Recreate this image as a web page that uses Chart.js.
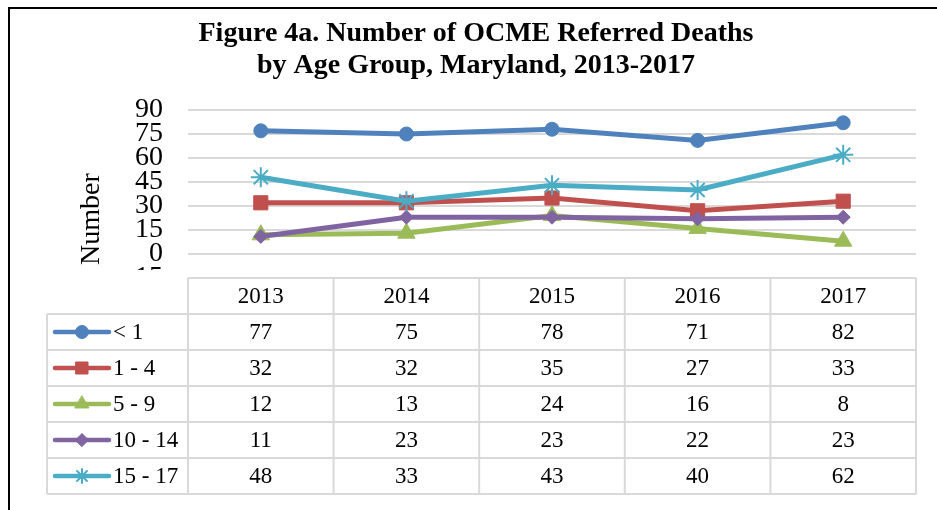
<!DOCTYPE html>
<html>
<head>
<meta charset="utf-8">
<script src="https://cdn.jsdelivr.net/npm/chart.js@4.4.1/dist/chart.umd.min.js"></script>
<style>
html,body{margin:0;padding:0;background:#fff;}
#wrap{width:937px;height:510px;}
</style>
</head>
<body>
<div id="wrap"><canvas id="c" width="937" height="510"></canvas></div>
<script>
// ---- data ----
const years = ['2013', '2014', '2015', '2016', '2017'];
const seriesNames = ['< 1', '1 - 4', '5 - 9', '10 - 14', '15 - 17'];
const under1 = [77, 75, 78, 71, 82];
const age1to4 = [32, 32, 35, 27, 33];
const age5to9 = [12, 13, 24, 16, 8];
const age10to14 = [11, 23, 23, 22, 23];
const age15to17 = [48, 33, 43, 40, 62];
const yMin = -15, yMax = 90, yStep = 15;
const titleLines = ['Figure 4a. Number of OCME Referred Deaths', 'by Age Group, Maryland, 2013-2017'];
const yAxisTitle = 'Number';

const seriesValues = [under1, age1to4, age5to9, age10to14, age15to17];
const colors = ['#4F81BD', '#C0504D', '#9BBB59', '#8064A2', '#4BACC6'];
const styles = ['circle', 'rect', 'triangle', 'rectRot', 'star'];
const radii = [7, 10, 10, 7, 10];
const keyRadii = [6.5, 8.5, 8, 6.5, 7];
const SERIF = '"Liberation Serif", "Times New Roman", serif';

const datasets = seriesNames.map((name, i) => ({
  label: name,
  data: seriesValues[i],
  order: seriesNames.length - 1 - i,
  borderColor: colors[i],
  backgroundColor: colors[i],
  borderWidth: 5,
  pointStyle: styles[i],
  pointRadius: radii[i],
  pointHoverRadius: radii[i],
  pointBackgroundColor: colors[i],
  pointBorderColor: colors[i],
  pointBorderWidth: styles[i] === 'star' ? 2 : 1,
  tension: 0,
  fill: false
}));

const framePlugin = {
  id: 'frame',
  beforeDraw(chart) {
    const ctx = chart.ctx;
    ctx.save();
    ctx.fillStyle = '#fff';
    ctx.fillRect(0, 0, chart.width, chart.height);
    ctx.restore();
  },
  afterDraw(chart) {
    const ctx = chart.ctx;
    const ca = chart.chartArea;
    const xs = chart.scales.x;
    const n = years.length;
    const colW = (ca.right - ca.left) / n;
    const rowH = 36;
    const top = ca.bottom;
    const tableLeft = 47;
    ctx.save();
    // hide the clipped part of the lowest tick label
    ctx.fillStyle = '#fff';
    ctx.fillRect(11, top - 8, ca.left - 12, rowH + 7);

    // y axis title
    ctx.save();
    ctx.translate(92, 219);
    ctx.rotate(-Math.PI / 2);
    ctx.fillStyle = '#000';
    ctx.font = '28px ' + SERIF;
    ctx.textAlign = 'center';
    ctx.textBaseline = 'middle';
    ctx.fillText(yAxisTitle, 0, 0);
    ctx.restore();

    // table grid
    ctx.strokeStyle = '#d9d9d9';
    ctx.lineWidth = 2;
    const nRows = seriesNames.length;
    const bottom = top + rowH * (nRows + 1);
    ctx.beginPath();
    ctx.moveTo(ca.left, top); ctx.lineTo(ca.right, top);
    for (let r = 1; r <= nRows + 1; r++) {
      const y = top + r * rowH;
      ctx.moveTo(tableLeft, y); ctx.lineTo(ca.right, y);
    }
    ctx.moveTo(tableLeft, top + rowH); ctx.lineTo(tableLeft, bottom);
    for (let c = 0; c <= n; c++) {
      const x = ca.left + c * colW;
      ctx.moveTo(x, top); ctx.lineTo(x, bottom);
    }
    ctx.stroke();

    // header text
    ctx.fillStyle = '#000';
    ctx.font = '23px ' + SERIF;
    ctx.textAlign = 'center';
    ctx.textBaseline = 'middle';
    years.forEach((yr, i) => {
      ctx.fillText(yr, xs.getPixelForValue(i), top + rowH / 2 + 1);
    });
    // rows
    seriesNames.forEach((name, r) => {
      const yc = top + rowH * (r + 1) + rowH / 2 + 1;
      ctx.save();
      ctx.strokeStyle = colors[r];
      ctx.lineWidth = 4.5;
      ctx.lineCap = 'round';
      ctx.beginPath();
      ctx.moveTo(55, yc - 1); ctx.lineTo(109, yc - 1);
      ctx.stroke();
      ctx.fillStyle = colors[r];
      ctx.strokeStyle = colors[r];
      ctx.lineWidth = styles[r] === 'star' ? 2 : 1;
      Chart.helpers.drawPoint(ctx, {pointStyle: styles[r], radius: keyRadii[r], rotation: 0, borderWidth: ctx.lineWidth}, 82, yc - 1);
      ctx.restore();
      ctx.fillStyle = '#000';
      ctx.textAlign = 'left';
      ctx.fillText(name, 113, yc);
      ctx.textAlign = 'center';
      seriesValues[r].forEach((v, i) => {
        ctx.fillText(String(v), xs.getPixelForValue(i), yc);
      });
    });

    // outer frame
    ctx.strokeStyle = '#000';
    ctx.lineWidth = 2;
    ctx.strokeRect(9, 8, 1000, 1000);
    ctx.restore();
  }
};

new Chart(document.getElementById('c'), {
  type: 'line',
  data: { labels: years, datasets },
  options: {
    responsive: false,
    animation: false,
    events: [],
    layout: { padding: { left: 36, right: 21, top: 8, bottom: 232 } },
    plugins: {
      legend: { display: false },
      tooltip: { enabled: false },
      title: {
        display: true,
        text: titleLines,
        color: '#000',
        font: { family: SERIF, size: 28, weight: 'bold', lineHeight: 1.143 },
        padding: { top: 9.5, bottom: 28.5 }
      }
    },
    scales: {
      x: {
        type: 'category',
        offset: true,
        display: false
      },
      y: {
        min: yMin,
        max: yMax,
        border: { display: false },
        grid: { color: '#d9d9d9', lineWidth: 2, drawTicks: false },
        ticks: {
          stepSize: yStep,
          autoSkip: false,
          padding: 25,
          color: '#000',
          font: { family: SERIF, size: 28, lineHeight: 1 }
        },
        afterFit(scale) { scale.width = 152; }
      }
    }
  },
  plugins: [framePlugin]
});
</script>
</body>
</html>
